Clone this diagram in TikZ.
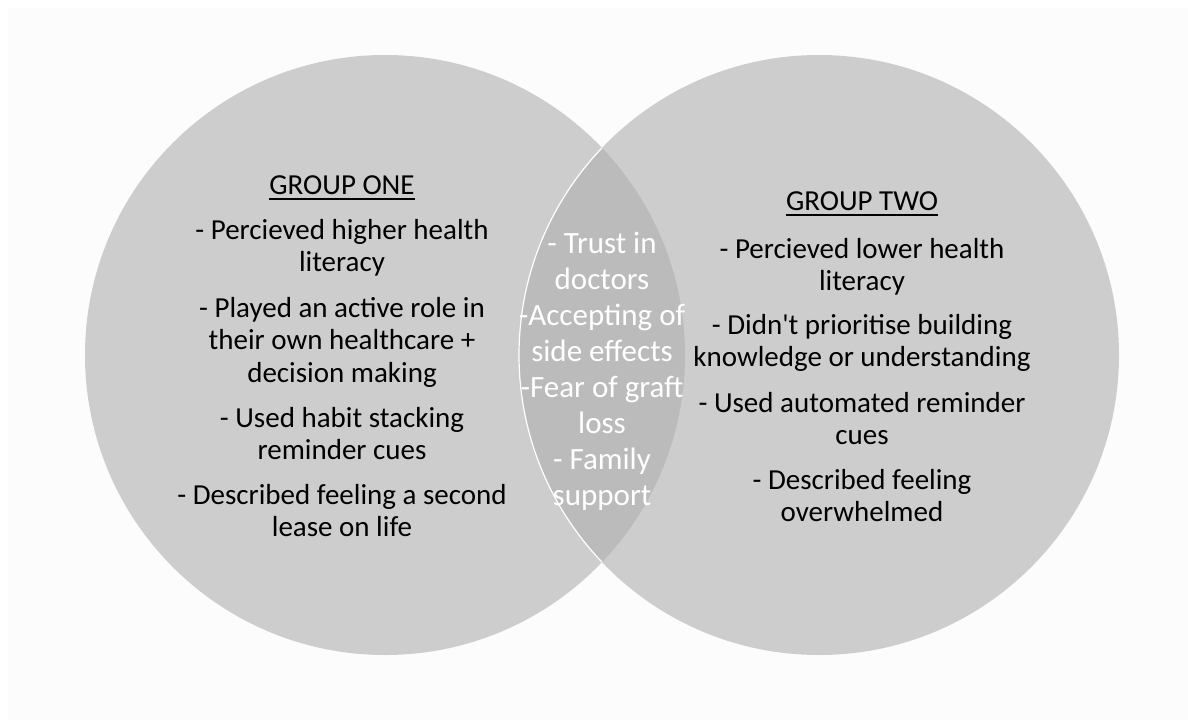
\documentclass[tikz,border=0pt]{standalone}
\usepackage{fontspec}
\setmainfont{Carlito}
\usepackage{tikz}
\definecolor{paper}{HTML}{FCFCFC}
\definecolor{vennfill}{HTML}{CDCDCD}
\definecolor{lensfill}{HTML}{BBBBBB}
\tikzset{
  item/.style={font=\fontsize{29}{32.5}\selectfont, align=center, anchor=base, inner sep=0pt},
  heading/.style={item},
  rule/.style={line width=1.8pt}
}
\begin{document}
\begin{tikzpicture}[x=1pt, y=-1pt]
	\useasboundingbox (0,0) rectangle (1188,720);
	\fill[white] (0,0) rectangle (1188,720);
	\fill[paper] (8,8) rectangle (1188,720);
	\fill[vennfill] (385,355) circle (300);
	\fill[vennfill] (819,355) circle (300);
	\begin{scope}
		\clip (385,355) circle (300);
		\fill[lensfill] (819,355) circle (300);
		\draw[white, line width=1.2pt] (819,355) circle (300);
	\end{scope}
	\node[heading] (headone) at (342,194) {GROUP ONE};
	\draw[rule] ([yshift=-5pt]headone.base west) -- ([yshift=-5pt]headone.base east);
	\node[item] (onea) at (342,271.5) {- Percieved higher health\\literacy};
	\node[item] (oneb) at (342,382) {- Played an active role in\\their own healthcare +\\decision making};
	\node[item] (onec) at (342,459.5) {- Used habit stacking\\reminder cues};
	\node[item] (oned) at (342,536.5) {- Described feeling a second\\lease on life};
	\node[heading] (headtwo) at (862,210) {GROUP TWO};
	\draw[rule] ([yshift=-5pt]headtwo.base west) -- ([yshift=-5pt]headtwo.base east);
	\node[item] (twoa) at (862,290.5) {- Percieved lower health\\literacy};
	\node[item] (twob) at (862,366.5) {- Didn\textquotesingle t prioritise building\\knowledge or understanding};
	\node[item] (twoc) at (862,444.5) {- Used automated reminder\\cues};
	\node[item] (twod) at (862,521.5) {- Described feeling\\overwhelmed};
	\node[item, white, font=\fontsize{31}{36}\selectfont] (shared) at (602,505) {- Trust in\\doctors\\-Accepting of\\side effects\\-Fear of graft\\loss\\- Family\\support};
\end{tikzpicture}
\end{document}
